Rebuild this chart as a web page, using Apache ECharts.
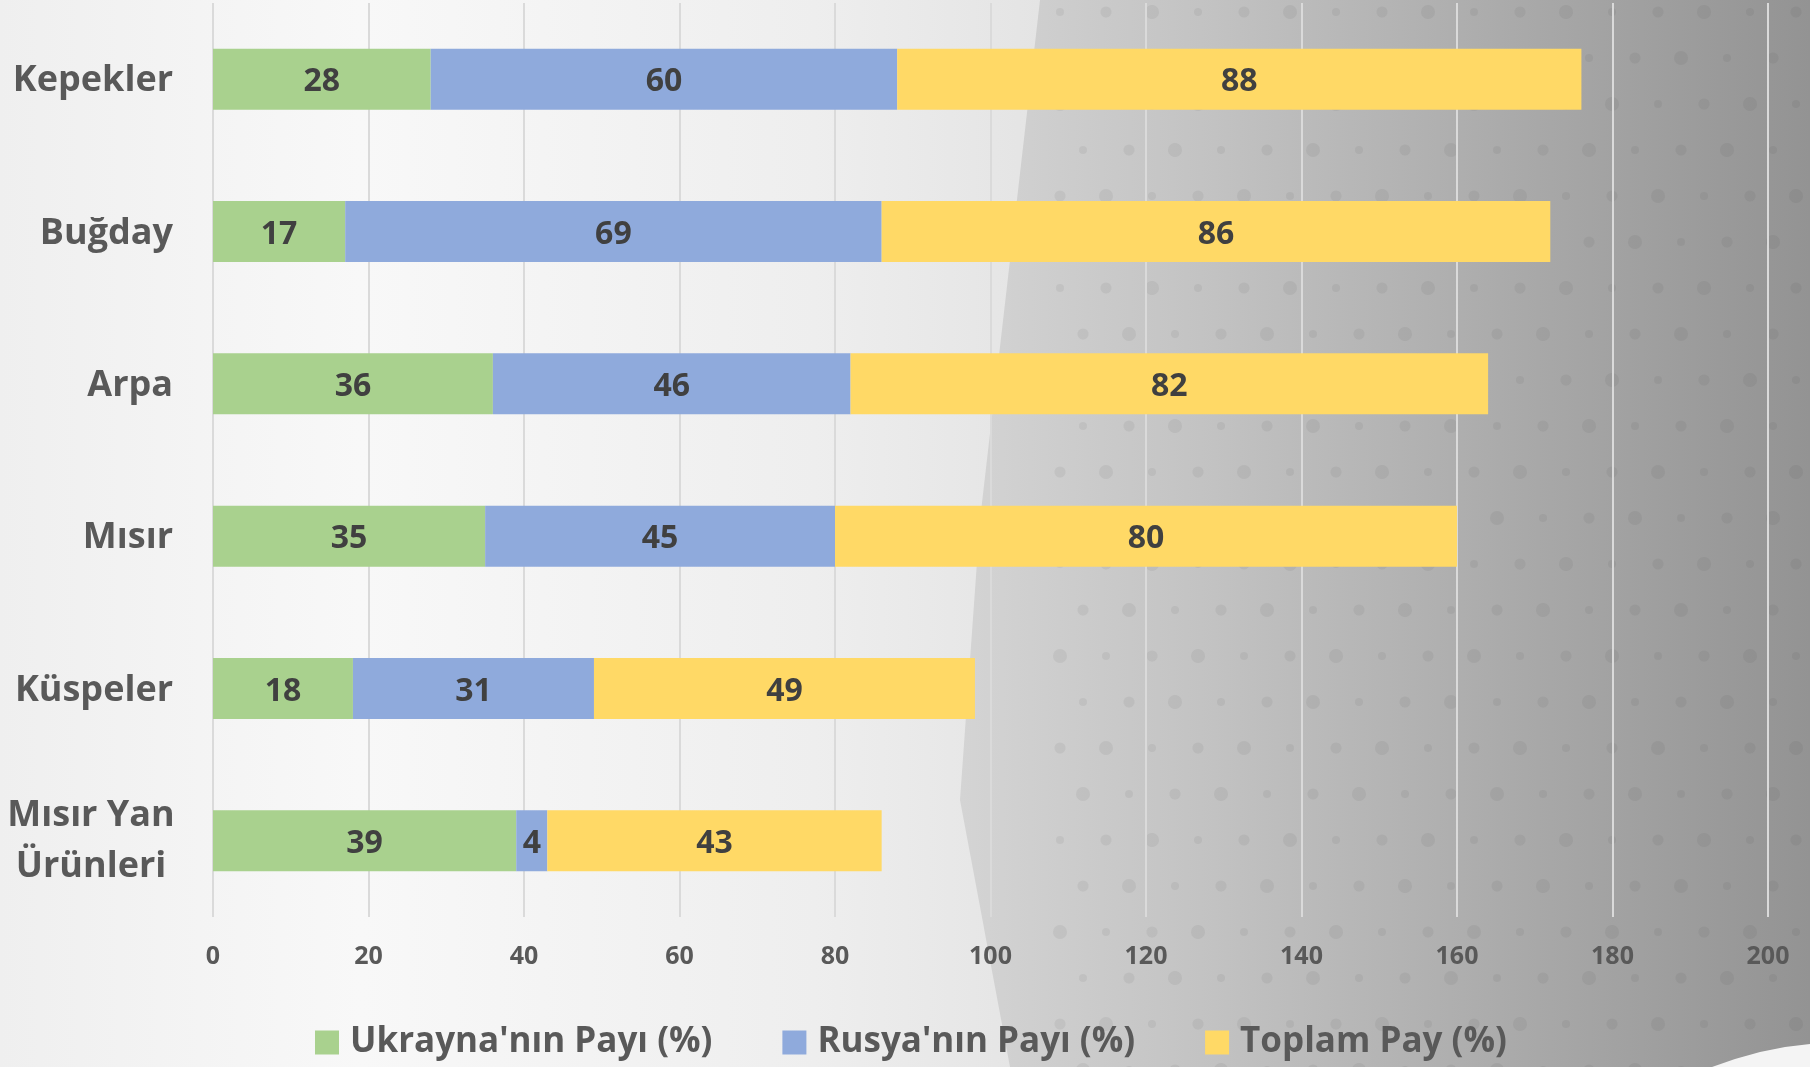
<!DOCTYPE html>
<html>
<head>
<meta charset="utf-8">
<script src="https://cdn.jsdelivr.net/npm/echarts@6/dist/echarts.min.js"></script>
<style>
html,body{margin:0;padding:0;background:#f2f2f2;}
#chart{width:1810px;height:1067px;}
</style>
</head>
<body>
<div id="chart"></div>
<script>
const categories = ['Kepekler', 'Buğday', 'Arpa', 'Mısır', 'Küspeler', 'Mısır Yan\nÜrünleri'];
const seriesNames = ["Ukrayna'nın Payı (%)", "Rusya'nın Payı (%)", "Toplam Pay (%)"];
const ukraineShare = [28, 17, 36, 35, 18, 39];
const russiaShare = [60, 69, 46, 45, 31, 4];
const totalShare = [88, 86, 82, 80, 49, 43];
const xTicks = [0, 20, 40, 60, 80, 100, 120, 140, 160, 180, 200];

const colors = ['#A9D18E', '#8FAADC', '#FFD966'];
const FONT = '"Open Sans", "Noto Sans", sans-serif';

const chart = echarts.init(document.getElementById('chart'));

// decorative background texture (regular dot lattice, not data)
const deco = [];
deco.push({
  type: 'polygon', silent: true, z: -10,
  shape: { points: [[1040, 0], [1810, 0], [1810, 1067], [1010, 1067], [960, 800], [980, 520]] },
  style: {
    fill: {
      type: 'linear', x: 0, y: 0, x2: 1, y2: 0,
      colorStops: [
        { offset: 0, color: '#d4d4d4' },
        { offset: 0.3, color: '#c2c2c2' },
        { offset: 0.65, color: '#aaaaaa' },
        { offset: 1, color: '#939393' }
      ]
    }
  }
});
for (let row = 0; row < 24; row++) {
  for (let col = 0; col < 18; col++) {
    const cx = 1060 + col * 46 + (row % 2) * 23;
    const cy = 12 + row * 46;
    if (cx > 1805) continue;
    deco.push({
      type: 'circle', silent: true, z: -9,
      shape: { cx: cx, cy: cy, r: 4 + ((row + col) % 3) * 1.5 },
      style: { fill: 'rgba(60,60,60,0.07)' }
    });
  }
}
deco.push({
  type: 'polygon', silent: true, z: -8,
  shape: { points: [[1712, 1067], [1735, 1059], [1760, 1052], [1785, 1047], [1810, 1044], [1810, 1067]] },
  style: { fill: '#f4f4f4' }
});

function mkSeries(name, data, color) {
  return {
    name: name,
    type: 'bar',
    stack: 'total',
    barCategoryGap: '60%',
    data: data,
    itemStyle: { color: color },
    label: {
      show: true,
      position: 'inside',
      offset: [0, 3],
      fontFamily: FONT,
      fontWeight: 'bold',
      fontSize: 32,
      color: '#404040'
    },
    emphasis: { disabled: true }
  };
}

chart.setOption({
  animation: false,
  backgroundColor: {
    type: 'linear', x: 0, y: 0, x2: 1, y2: 0,
    colorStops: [
      { offset: 0, color: '#efefef' },
      { offset: 0.2, color: '#f8f8f8' },
      { offset: 0.45, color: '#eeeeee' },
      { offset: 0.6, color: '#e2e2e2' },
      { offset: 1, color: '#d8d8d8' }
    ]
  },
  graphic: deco,
  grid: { left: 213, right: 42, top: 3, bottom: 150, containLabel: false },
  legend: {
    data: seriesNames,
    left: 310,
    top: 1020,
    icon: 'rect',
    itemWidth: 24,
    itemHeight: 24,
    itemGap: 70,
    textStyle: {
      fontFamily: FONT,
      fontWeight: 'bold',
      fontSize: 35,
      color: '#595959',
      padding: [0, 0, 0, 6]
    }
  },
  xAxis: {
    type: 'value',
    min: xTicks[0],
    max: xTicks[xTicks.length - 1],
    interval: 20,
    axisLine: { show: false },
    axisTick: { show: false },
    splitLine: { show: true, lineStyle: { color: '#dadada', width: 2 } },
    axisLabel: {
      margin: 27,
      fontFamily: FONT,
      fontWeight: 'bold',
      fontSize: 25,
      color: '#595959'
    }
  },
  yAxis: {
    type: 'category',
    inverse: true,
    data: categories,
    axisLine: { show: false },
    axisTick: { show: false },
    axisLabel: {
      margin: 40,
      fontFamily: FONT,
      fontWeight: 'bold',
      fontSize: 36,
      color: '#595959',
      lineHeight: 51,
      formatter: function (v) {
        if (v.indexOf('\n') >= 0) {
          return v.split('\n').map(function (s) { return '{c|' + s + '}'; }).join('\n');
        }
        return '{n|' + v + '}';
      },
      rich: {
        n: {
          fontFamily: FONT,
          fontWeight: 'bold',
          fontSize: 36,
          color: '#595959',
          padding: [4, 0, 0, 0]
        },
        c: {
          width: 164,
          align: 'center',
          fontFamily: FONT,
          fontWeight: 'bold',
          fontSize: 36,
          color: '#595959',
          lineHeight: 51
        }
      }
    }
  },
  series: [
    mkSeries(seriesNames[0], ukraineShare, colors[0]),
    mkSeries(seriesNames[1], russiaShare, colors[1]),
    mkSeries(seriesNames[2], totalShare, colors[2])
  ]
});
</script>
</body>
</html>
